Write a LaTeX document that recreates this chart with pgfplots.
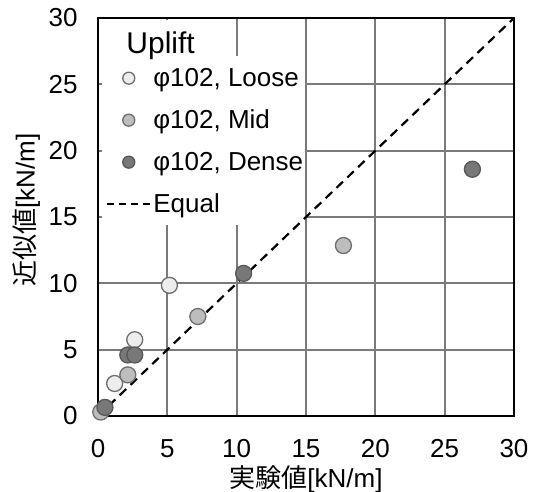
\documentclass[border=0pt]{standalone}
\usepackage{fontspec}
\setmainfont{Liberation Sans}
\newfontfamily\cjk{Noto Sans CJK JP}
\usepackage{pgfplots}
\pgfplotsset{compat=1.18}
\definecolor{looseF}{HTML}{EDEDED}
\definecolor{midF}{HTML}{BDBDBD}
\definecolor{denseF}{HTML}{787878}
\definecolor{edgeC}{HTML}{6E6E6E}
\definecolor{gridC}{HTML}{7A7A7A}
\newcommand{\tf}{\fontsize{26bp}{30bp}\selectfont}
\pgfplotsset{
  markleg/.style={legend image code/.code={\draw[##1, mark size=6bp] plot coordinates {(21.5bp,0bp)};}},
  lineleg/.style={legend image code/.code={\draw[##1, dash pattern=on 7bp off 5bp] (0bp,0bp) -- (43bp,0bp);}},
}
\begin{document}
\begin{tikzpicture}
\path[use as bounding box] (-98bp,-76bp) rectangle (439bp,416bp);
\begin{axis}[
  scale only axis,
  width=416bp, height=398bp,
  xmin=0, xmax=30, ymin=0, ymax=30,
  xtick={0,5,...,30}, ytick={0,5,...,30},
  major tick length=0pt,
  grid=major,
  grid style={gridC, line width=1.8bp},
  axis line style={black, line width=2.2bp},
  /pgf/number format/assume math mode=true,
  tick label style={font=\tf},
  xticklabel style={yshift=-20bp},
  yticklabel style={xshift=-17bp},
  xlabel={{\cjk 実験値}[kN/m]},
  ylabel={{\cjk 近似値}[kN/m]},
  label style={font=\tf},
  xlabel style={at={(rel axis cs:0.5,-0.158)}, anchor=center},
  ylabel style={at={(rel axis cs:-0.172,0.518)}, anchor=center},
  legend style={at={(rel axis cs:0.012,0.884)}, anchor=north west, draw=none, fill=none,
    font=\tf, row sep=18bp,
    nodes={inner xsep=2bp, inner ysep=2bp}},
  legend cell align=left,
]
\fill[white] (rel axis cs:0.0096,0.995) rectangle (rel axis cs:0.33,0.9);
\fill[white] (rel axis cs:0.0096,0.905) rectangle (rel axis cs:0.4976,0.48);
\node[anchor=base west, font=\fontsize{30bp}{34bp}\selectfont] at (rel axis cs:0.06,0.912) {Uplift};

\addplot[only marks, mark=*, mark size=8bp, mark options={fill=looseF, draw=edgeC, line width=1.3bp}, markleg]
  coordinates {(1.2,2.45) (2.65,5.75) (5.15,9.85)};
\addlegendentry{φ102, Loose}
\addplot[only marks, mark=*, mark size=8bp, mark options={fill=midF, draw=edgeC, line width=1.3bp}, markleg]
  coordinates {(0.2,0.3) (2.15,3.1) (7.2,7.5) (17.7,12.85)};
\addlegendentry{φ102, Mid}
\addplot[only marks, mark=*, mark size=8bp, mark options={fill=denseF, draw=edgeC!80!black, line width=1.3bp}, markleg]
  coordinates {(0.5,0.65) (2.15,4.6) (2.65,4.6) (10.5,10.75) (27.0,18.6)};
\addlegendentry{φ102, Dense}
\addplot[black, line width=2.2bp, dash pattern=on 9bp off 6bp, lineleg]
  coordinates {(0,0) (30,30)};
\addlegendentry{Equal}
\end{axis}
\end{tikzpicture}
\end{document}
